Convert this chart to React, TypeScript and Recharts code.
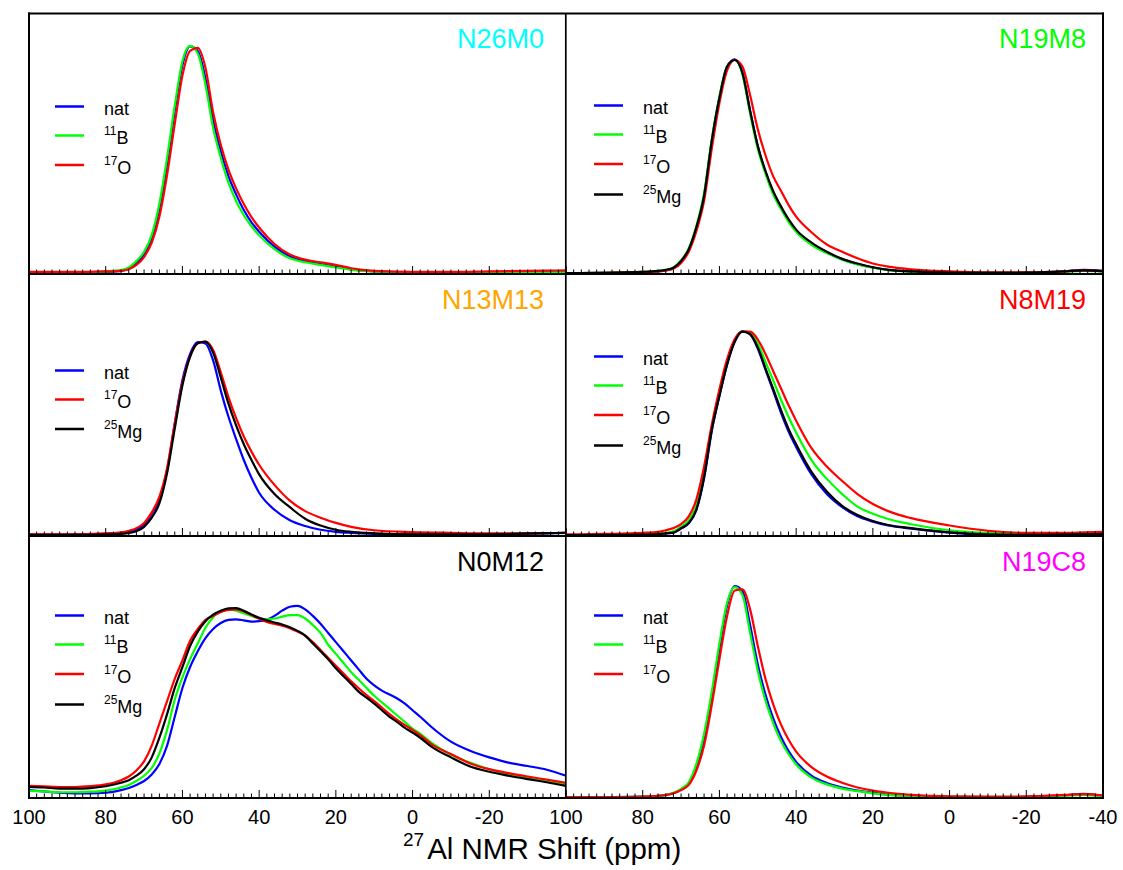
import { LineChart, Line, XAxis, YAxis, Legend } from 'recharts';

const FONT = '"Liberation Sans", Arial, Helvetica, sans-serif';

// ppm grids (x values)
const PPM_A = [100, 90, 80, 76, 74, 72, 70, 68, 66, 64, 62, 60, 58, 56, 54, 52, 50, 48, 46, 44, 42, 40,
  36, 32, 28, 24, 20, 16, 10, 0, -10, -20, -30, -35, -40];
const PPM_B = [100, 96, 92, 88, 84, 80, 76, 74, 72, 70, 68, 66, 64, 62, 60, 58, 56, 54, 52, 50, 48, 46, 44,
  42, 40, 38, 36, 34, 32, 30, 28, 26, 24, 22, 20, 18, 16, 14, 12, 10, 8, 6, 4, 2, 0, -2, -5, -10, -15, -20,
  -25, -30, -35, -40];

const TICK_LABELS = [100, 80, 60, 40, 20, 0, -20, -40];
const TICKS: number[] = [];
for (let v = 100; v >= -40; v -= 2) TICKS.push(v);

// N26M0
const TL_NAT = [0.005, 0.005, 0.008, 0.012, 0.02, 0.04, 0.075, 0.135, 0.25, 0.42, 0.625, 0.80, 0.872, 0.855, 0.75, 0.59, 0.47, 0.375, 0.305, 0.245, 0.198, 0.162,
  0.105, 0.068, 0.05, 0.038, 0.028, 0.018, 0.01, 0.006, 0.005, 0.005, 0.006, 0.007, 0.008];
const TL_B11 = [0.005, 0.005, 0.01, 0.015, 0.025, 0.05, 0.085, 0.15, 0.27, 0.445, 0.645, 0.815, 0.874, 0.845, 0.725, 0.56, 0.445, 0.35, 0.28, 0.225, 0.183, 0.148,
  0.095, 0.06, 0.045, 0.035, 0.025, 0.016, 0.01, 0.005, 0.004, 0.004, 0.005, 0.006, 0.006];
const TL_O17 = [0.008, 0.008, 0.01, 0.012, 0.018, 0.035, 0.065, 0.12, 0.22, 0.38, 0.575, 0.76, 0.855, 0.866, 0.79, 0.62, 0.495, 0.40, 0.328, 0.268, 0.218, 0.178,
  0.115, 0.075, 0.055, 0.045, 0.035, 0.022, 0.012, 0.008, 0.008, 0.01, 0.012, 0.013, 0.014];

// N19M8
const TR_NAT = [0.003, 0.004, 0.007, 0.01, 0.014, 0.022, 0.047, 0.092, 0.175, 0.30, 0.51, 0.675, 0.795, 0.822, 0.77, 0.625, 0.49, 0.39, 0.312, 0.255, 0.205, 0.165,
  0.115, 0.082, 0.056, 0.038, 0.025, 0.016, 0.01, 0.005, 0.004, 0.005, 0.01, 0.016, 0.012];
const TR_B11 = [0.003, 0.004, 0.008, 0.012, 0.016, 0.025, 0.052, 0.098, 0.185, 0.31, 0.515, 0.68, 0.795, 0.82, 0.765, 0.615, 0.48, 0.385, 0.305, 0.25, 0.2, 0.162,
  0.112, 0.08, 0.055, 0.037, 0.024, 0.015, 0.009, 0.005, 0.004, 0.005, 0.008, 0.012, 0.01];
const TR_O17 = [0.003, 0.004, 0.008, 0.01, 0.014, 0.02, 0.042, 0.085, 0.165, 0.28, 0.48, 0.655, 0.78, 0.82, 0.795, 0.685, 0.555, 0.455, 0.375, 0.32, 0.265, 0.22,
  0.16, 0.113, 0.085, 0.06, 0.04, 0.028, 0.018, 0.01, 0.006, 0.006, 0.01, 0.014, 0.012];
const TR_MG = [0.003, 0.004, 0.008, 0.012, 0.016, 0.024, 0.05, 0.095, 0.18, 0.30, 0.51, 0.675, 0.795, 0.82, 0.77, 0.625, 0.49, 0.395, 0.318, 0.26, 0.21, 0.17,
  0.12, 0.085, 0.058, 0.04, 0.026, 0.016, 0.01, 0.005, 0.004, 0.005, 0.01, 0.014, 0.01];

// N13M13
const ML_NAT = [0.005, 0.005, 0.008, 0.012, 0.016, 0.025, 0.045, 0.085, 0.14, 0.25, 0.43, 0.595, 0.695, 0.74, 0.735, 0.67, 0.555, 0.455, 0.37, 0.29, 0.222, 0.165,
  0.10, 0.06, 0.038, 0.024, 0.016, 0.012, 0.008, 0.005, 0.005, 0.005, 0.008, 0.01, 0.012];
const ML_O17 = [0.006, 0.006, 0.01, 0.014, 0.02, 0.03, 0.05, 0.09, 0.15, 0.26, 0.43, 0.585, 0.685, 0.736, 0.742, 0.71, 0.625, 0.53, 0.45, 0.38, 0.322, 0.272,
  0.195, 0.135, 0.095, 0.07, 0.05, 0.035, 0.022, 0.015, 0.012, 0.01, 0.01, 0.011, 0.012];
const ML_MG = [0.004, 0.004, 0.006, 0.008, 0.012, 0.018, 0.035, 0.07, 0.125, 0.24, 0.41, 0.575, 0.685, 0.736, 0.742, 0.70, 0.605, 0.505, 0.422, 0.35, 0.29, 0.235,
  0.16, 0.11, 0.066, 0.04, 0.024, 0.016, 0.01, 0.006, 0.006, 0.006, 0.01, 0.011, 0.012];

// N8M19
const MR_NAT = [0.003, 0.004, 0.005, 0.007, 0.01, 0.013, 0.028, 0.048, 0.10, 0.22, 0.40, 0.535, 0.655, 0.742, 0.782, 0.77, 0.715, 0.635, 0.555, 0.472, 0.40, 0.34,
  0.235, 0.16, 0.11, 0.075, 0.055, 0.04, 0.028, 0.013, 0.005, 0.004, 0.005, 0.006, 0.007];
const MR_B11 = [0.003, 0.004, 0.006, 0.008, 0.012, 0.018, 0.035, 0.06, 0.118, 0.24, 0.415, 0.545, 0.665, 0.747, 0.78, 0.775, 0.735, 0.665, 0.595, 0.522, 0.455, 0.395,
  0.29, 0.218, 0.16, 0.112, 0.085, 0.065, 0.045, 0.022, 0.012, 0.008, 0.008, 0.009, 0.01];
const MR_O17 = [0.006, 0.008, 0.012, 0.016, 0.022, 0.03, 0.045, 0.075, 0.14, 0.265, 0.425, 0.56, 0.675, 0.752, 0.78, 0.78, 0.75, 0.695, 0.63, 0.565, 0.50, 0.44,
  0.335, 0.265, 0.21, 0.16, 0.122, 0.095, 0.068, 0.04, 0.02, 0.012, 0.012, 0.014, 0.016];
const MR_MG = [0.003, 0.004, 0.005, 0.007, 0.01, 0.013, 0.03, 0.05, 0.102, 0.225, 0.405, 0.535, 0.655, 0.742, 0.78, 0.77, 0.72, 0.64, 0.562, 0.482, 0.41, 0.35,
  0.245, 0.17, 0.115, 0.08, 0.057, 0.042, 0.03, 0.014, 0.006, 0.004, 0.006, 0.007, 0.008];

// N0M12 (PPM_B grid)
const BL_NAT = [0.03, 0.025, 0.02, 0.018, 0.018, 0.02, 0.03, 0.038, 0.05, 0.065, 0.09, 0.13, 0.20, 0.31, 0.42, 0.50, 0.56, 0.61, 0.645, 0.668, 0.68, 0.682,
  0.678, 0.673, 0.675, 0.68, 0.695, 0.715, 0.73, 0.733, 0.72, 0.695, 0.665, 0.63, 0.595, 0.56, 0.525, 0.49, 0.455, 0.43, 0.41, 0.395, 0.38, 0.36,
  0.335, 0.31, 0.27, 0.215, 0.18, 0.155, 0.135, 0.122, 0.108, 0.085];
const BL_B11 = [0.027, 0.025, 0.022, 0.022, 0.024, 0.028, 0.04, 0.05, 0.065, 0.085, 0.115, 0.17, 0.26, 0.375, 0.46, 0.53, 0.59, 0.65, 0.69, 0.715, 0.72, 0.715,
  0.705, 0.695, 0.685, 0.683, 0.685, 0.692, 0.698, 0.698, 0.685, 0.66, 0.63, 0.585, 0.55, 0.515, 0.48, 0.45, 0.42, 0.39, 0.365, 0.34, 0.315, 0.29,
  0.265, 0.245, 0.21, 0.165, 0.135, 0.11, 0.09, 0.075, 0.063, 0.05];
const BL_O17 = [0.046, 0.044, 0.042, 0.042, 0.045, 0.052, 0.068, 0.082, 0.105, 0.14, 0.20, 0.285, 0.37, 0.455, 0.525, 0.60, 0.645, 0.68, 0.695, 0.71, 0.718, 0.72,
  0.712, 0.698, 0.684, 0.672, 0.664, 0.658, 0.648, 0.635, 0.62, 0.595, 0.565, 0.535, 0.505, 0.475, 0.445, 0.418, 0.393, 0.37, 0.345, 0.32, 0.298, 0.278,
  0.26, 0.24, 0.205, 0.168, 0.132, 0.11, 0.095, 0.082, 0.07, 0.058];
const BL_MG = [0.042, 0.04, 0.036, 0.036, 0.038, 0.045, 0.058, 0.068, 0.085, 0.11, 0.155, 0.23, 0.32, 0.42, 0.50, 0.58, 0.635, 0.675, 0.70, 0.715, 0.724, 0.725,
  0.715, 0.70, 0.688, 0.678, 0.67, 0.662, 0.652, 0.638, 0.62, 0.59, 0.56, 0.53, 0.495, 0.465, 0.435, 0.405, 0.383, 0.36, 0.335, 0.31, 0.29, 0.268,
  0.25, 0.23, 0.195, 0.155, 0.12, 0.10, 0.085, 0.072, 0.06, 0.046];

// N19C8
const BR_NAT = [0.002, 0.003, 0.005, 0.008, 0.012, 0.018, 0.032, 0.055, 0.12, 0.22, 0.385, 0.57, 0.735, 0.809, 0.79, 0.66, 0.51, 0.395, 0.305, 0.235, 0.18, 0.138,
  0.085, 0.057, 0.04, 0.028, 0.02, 0.013, 0.008, 0.004, 0.003, 0.004, 0.01, 0.016, 0.008];
const BR_B11 = [0.002, 0.003, 0.005, 0.008, 0.012, 0.02, 0.035, 0.06, 0.13, 0.245, 0.405, 0.59, 0.745, 0.805, 0.775, 0.63, 0.485, 0.372, 0.287, 0.218, 0.168, 0.128,
  0.078, 0.052, 0.036, 0.026, 0.018, 0.012, 0.008, 0.004, 0.003, 0.004, 0.008, 0.012, 0.006];
const BR_O17 = [0.003, 0.003, 0.005, 0.008, 0.011, 0.018, 0.03, 0.05, 0.105, 0.20, 0.355, 0.53, 0.695, 0.792, 0.796, 0.72, 0.58, 0.455, 0.358, 0.282, 0.223, 0.177,
  0.118, 0.082, 0.058, 0.04, 0.028, 0.02, 0.012, 0.006, 0.005, 0.006, 0.012, 0.015, 0.01];

const SERIES: Record<string, { name: string; color: string }> = {
  nat: { name: 'nat', color: '#0000ff' },
  b11: { name: '11B', color: '#00ff00' },
  o17: { name: '17O', color: '#ff0000' },
  mg25: { name: '25Mg', color: '#000000' },
};

type Panel = {
  title: string; titleColor: string; row: number; col: number;
  ppm: number[]; series: [string, number[]][]; legendTop: number;
};

const PANELS: Panel[] = [
  { title: 'N26M0', titleColor: '#00ffff', row: 0, col: 0, ppm: PPM_A, legendTop: 82,
    series: [['nat', TL_NAT], ['b11', TL_B11], ['o17', TL_O17]] },
  { title: 'N19M8', titleColor: '#00ff00', row: 0, col: 1, ppm: PPM_A, legendTop: 81,
    series: [['nat', TR_NAT], ['b11', TR_B11], ['o17', TR_O17], ['mg25', TR_MG]] },
  { title: 'N13M13', titleColor: '#ffa500', row: 1, col: 0, ppm: PPM_A, legendTop: 85,
    series: [['nat', ML_NAT], ['o17', ML_O17], ['mg25', ML_MG]] },
  { title: 'N8M19', titleColor: '#ff0000', row: 1, col: 1, ppm: PPM_A, legendTop: 71,
    series: [['nat', MR_NAT], ['b11', MR_B11], ['o17', MR_O17], ['mg25', MR_MG]] },
  { title: 'N0M12', titleColor: '#000000', row: 2, col: 0, ppm: PPM_B, legendTop: 68,
    series: [['nat', BL_NAT], ['b11', BL_B11], ['o17', BL_O17], ['mg25', BL_MG]] },
  { title: 'N19C8', titleColor: '#ff00ff', row: 2, col: 1, ppm: PPM_A, legendTop: 68,
    series: [['nat', BR_NAT], ['b11', BR_B11], ['o17', BR_O17]] },
];

const ROW_TOP = [13, 274, 536];
const ROW_H = [261, 262, 262];
const COL_LEFT = [29, 566];
const PANEL_W = 537;
const SIDE = 24; // room for edge tick labels
const ENTRY_DY = [0, 29, 58.5, 89];

function AxisTick(props: any) {
  const { x, y, payload, labels, hideLast } = props;
  const v = payload.value as number;
  const major = v % 20 === 0;
  const showLabel = labels && major && TICK_LABELS.includes(v) && !(hideLast && v === -40);
  return (
    <g>
      <line x1={x} x2={x} y1={y} y2={y - (major ? 8 : 4.5)} stroke="#000" strokeWidth={1} />
      {showLabel && (
        <text x={x} y={y + 25.5} textAnchor="middle" fontSize={20} fontFamily={FONT} fill="#000">{v}</text>
      )}
    </g>
  );
}

function LegendBox({ keys, lx }: { keys: string[]; lx: number }) {
  return (
    <svg width={180} height={130} style={{ overflow: 'visible' }}>
      {keys.map((k, i) => {
        const s = SERIES[k];
        const by = 20 + ENTRY_DY[i];
        const m = /^(\d+)(.*)$/.exec(s.name);
        return (
          <g key={k}>
            <line x1={lx} x2={lx + 29} y1={by - 8.5} y2={by - 8.5} stroke={s.color} strokeWidth={2.5} />
            <text x={lx + 49} y={by} fontSize={18} fontFamily={FONT} fill="#000">
              {m ? (
                <>
                  <tspan fontSize={12} dy={-9}>{m[1]}</tspan>
                  <tspan dy={9}>{m[2]}</tspan>
                </>
              ) : s.name}
            </text>
          </g>
        );
      })}
    </svg>
  );
}

function PanelChart({ p }: { p: Panel }) {
  const bottomRow = p.row === 2;
  const axisH = bottomRow ? 44 : 2;
  const plotH = ROW_H[p.row];
  const data = p.ppm.map((ppm, i) => {
    const r: Record<string, number> = { ppm };
    p.series.forEach(([k, vals]) => { r[k] = vals[i]; });
    return r;
  });
  const keys = p.series.map(([k]) => k);
  return (
    <div style={{ position: 'absolute', left: COL_LEFT[p.col] - SIDE, top: ROW_TOP[p.row] }}>
      <LineChart width={PANEL_W + 2 * SIDE} height={plotH + axisH} data={data}
        margin={{ top: 0, right: SIDE, bottom: 0, left: SIDE }}>
        <XAxis dataKey="ppm" type="number" domain={[-40, 100]} reversed allowDataOverflow
          ticks={TICKS} interval={0} tickSize={0} tickMargin={0} tickLine={false}
          axisLine={{ stroke: '#000', strokeWidth: 2 }} height={axisH}
          tick={(t: any) => <AxisTick {...t} labels={bottomRow} hideLast={p.col === 0} />} />
        <YAxis hide domain={[0, 1]} />
        <Legend layout="vertical" align="center" verticalAlign="middle"
          wrapperStyle={{ left: SIDE, top: p.legendTop, width: 180, height: 130 }}
          content={() => <LegendBox keys={keys} lx={p.col === 0 ? 26 : 28} />} />
        {p.series.map(([k]) => (
          <Line key={k} dataKey={k} name={SERIES[k].name} type="monotone"
            stroke={SERIES[k].color} strokeWidth={2.2} dot={false} activeDot={false}
            isAnimationActive={false} />
        ))}
      </LineChart>
    </div>
  );
}

export default function App() {
  return (
    <div style={{ position: 'absolute', left: 0, top: 0, width: 1123, height: 870, background: '#fff', fontFamily: FONT }}>
      {PANELS.map((p) => <PanelChart key={p.title} p={p} />)}
      <svg width={1123} height={870} style={{ position: 'absolute', left: 0, top: 0, pointerEvents: 'none' }}>
        <line x1={28} x2={1104} y1={13.5} y2={13.5} stroke="#000" strokeWidth={2} />
        <line x1={29} x2={29} y1={12.5} y2={799} stroke="#000" strokeWidth={2} />
        <line x1={1103} x2={1103} y1={12.5} y2={799} stroke="#000" strokeWidth={2} />
        <line x1={565.8} x2={565.8} y1={13} y2={798} stroke="#000" strokeWidth={1.7} />
        {PANELS.map((p) => (
          <text key={p.title} x={p.col === 0 ? 544 : 1086} y={ROW_TOP[p.row] + 35} textAnchor="end"
            fontSize={27} fontFamily={FONT} fill={p.titleColor}>{p.title}</text>
        ))}
        <text x={403} y={859} fontFamily={FONT} fill="#000">
          <tspan fontSize={19} dy={-13}>27</tspan>
          <tspan fontSize={29.5} dy={13} dx={3}>Al NMR Shift (ppm)</tspan>
        </text>
      </svg>
    </div>
  );
}
